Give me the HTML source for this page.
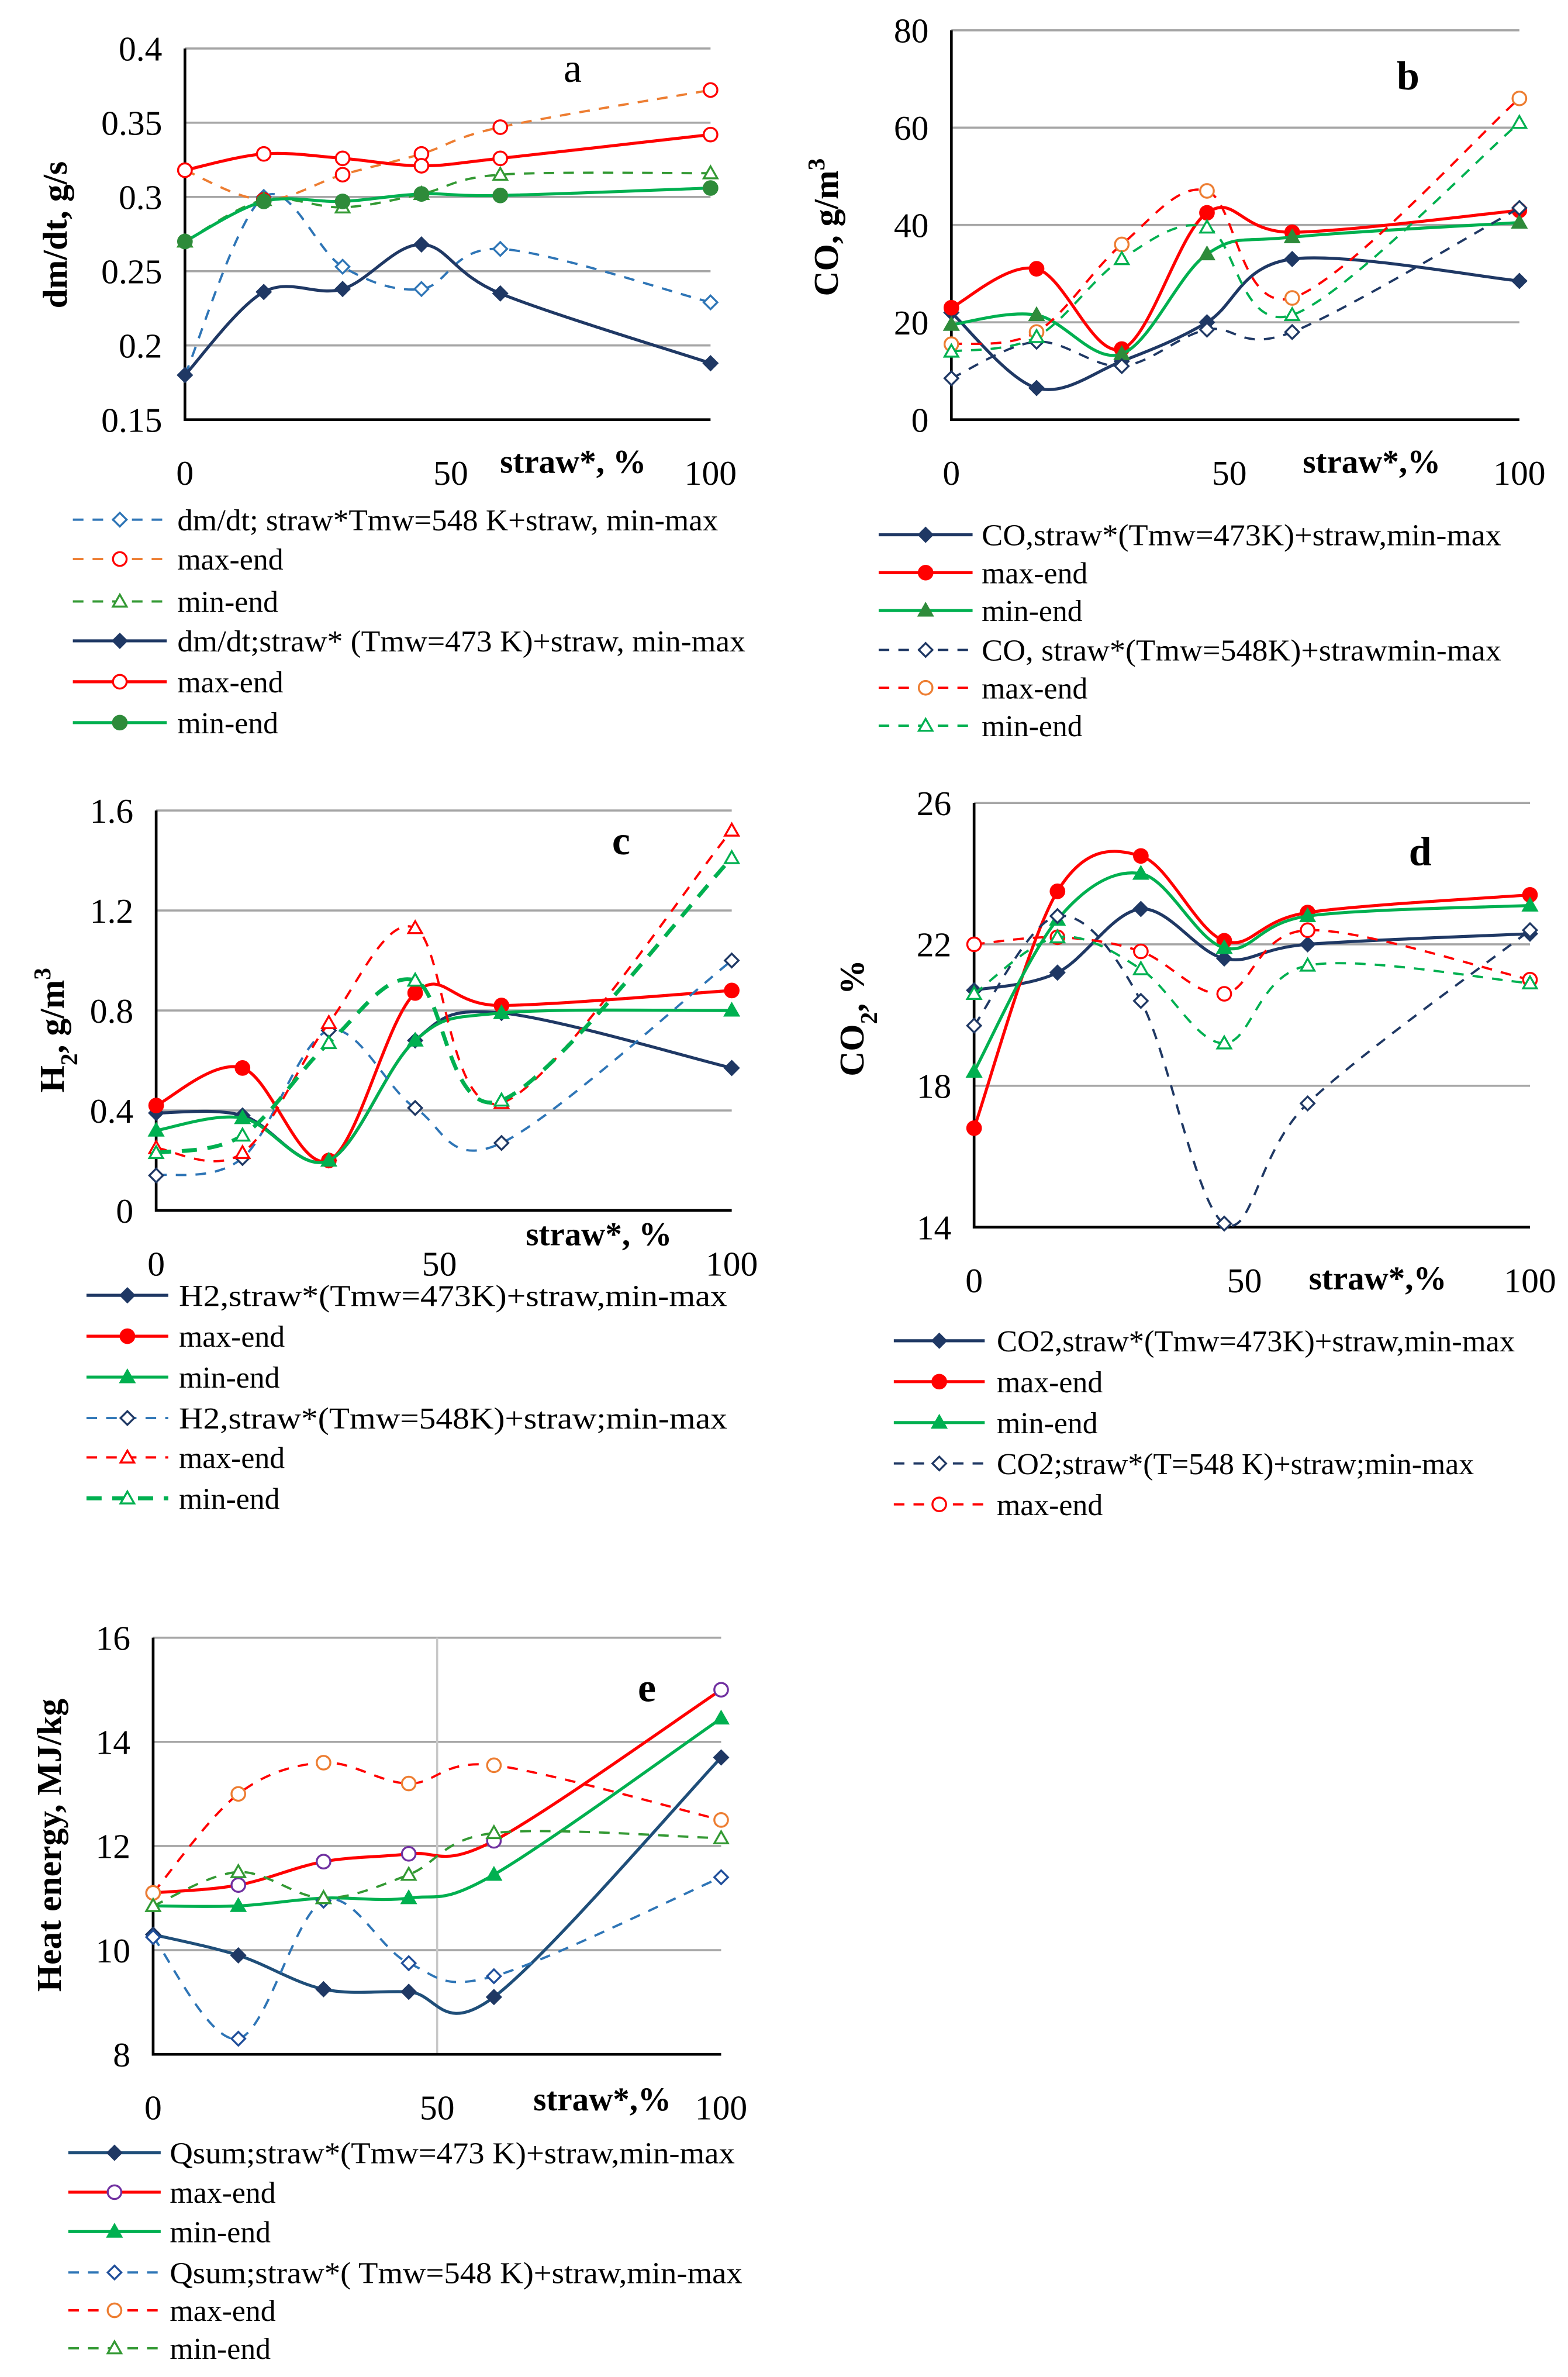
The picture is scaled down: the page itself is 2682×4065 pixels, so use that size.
<!DOCTYPE html>
<html><head><meta charset="utf-8"><style>
html,body{margin:0;padding:0;background:#fff;}
svg{display:block;}
text{font-family:"Liberation Serif",serif;fill:#000;}
</style></head><body>
<svg id="fig" width="2682" height="4065" viewBox="0 0 1035 1569" xmlns="http://www.w3.org/2000/svg"></svg>
<script>
const xValues=[0,15,30,45,60,100];
// panel a
const aDash548=[0.18,0.30,0.253,0.238,0.265,0.229];
const aDashMax=[0.318,0.298,0.315,0.329,0.347,0.372];
const aDashMin=[0.27,0.298,0.293,0.302,0.315,0.316];
const aSolid473=[0.18,0.236,0.238,0.268,0.235,0.188];
const aSolidMax=[0.318,0.329,0.326,0.321,0.326,0.342];
const aSolidMin=[0.27,0.297,0.297,0.302,0.301,0.306];
const aTicks=["0.15","0.2","0.25","0.3","0.35","0.4"];
const aTickVals=[0.15,0.2,0.25,0.3,0.35,0.4];
// panel b
const bSolid473=[22,6.5,12,20,33,28.5];
const bSolidMax=[23,31,14.5,42.5,38.5,43];
const bSolidMin=[19.5,21.5,13.5,34,37.5,40.5];
const bDash548=[8.5,16,11,18.5,18,43.5];
const bDashMax=[15.5,18,36,47,25,66];
const bDashMin=[14,17,33,39.5,21.5,61];
const bTicks=["0","20","40","60","80"];
const bTickVals=[0,20,40,60,80];
// panel c
const cSolid473=[0.39,0.38,0.2,0.68,0.79,0.57];
const cSolidMax=[0.42,0.57,0.2,0.87,0.82,0.88];
const cSolidMin=[0.32,0.37,0.2,0.68,0.79,0.8];
const cDash548=[0.14,0.21,0.72,0.41,0.27,1.0];
const cDashMax=[0.25,0.23,0.75,1.13,0.43,1.52];
const cDashMin=[0.23,0.3,0.67,0.92,0.44,1.41];
const cTicks=["0","0.4","0.8","1.2","1.6"];
const cTickVals=[0,0.4,0.8,1.2,1.6];
// panel d
const dSolid473=[20.7,21.2,23,21.6,22,22.3];
const dSolidMax=[16.8,23.5,24.5,22.1,22.9,23.4];
const dSolidMin=[18.4,22.7,24,21.9,22.8,23.1];
const dDash548=[19.7,22.8,20.4,14.1,17.5,22.4];
const dDashMax=[22,22.2,21.8,20.6,22.4,21];
const dDashMin=[20.6,22.2,21.3,19.2,21.4,20.9];
const dTicks=["14","18","22","26"];
const dTickVals=[14,18,22,26];
// panel e
const eSolid473=[10.3,9.9,9.25,9.2,9.1,13.7];
const eSolidMax=[11.1,11.25,11.7,11.85,12.1,15];
const eSolidMin=[10.85,10.85,11.0,11.0,11.45,14.45];
const eDash548=[10.25,8.3,10.95,9.75,9.5,11.4];
const eDashMax=[11.1,13.0,13.6,13.2,13.55,12.5];
const eDashMin=[10.85,11.5,11.0,11.45,12.25,12.15];
const eTicks=["8","10","12","14","16"];
const eTickVals=[8,10,12,14,16];
const xTicks=["0","50","100"];
const xTickVals=[0,50,100];

const NS="http://www.w3.org/2000/svg";
const svg=document.getElementById('fig');
function mk(tag,attrs,parent){const e=document.createElementNS(NS,tag);for(const k in attrs)e.setAttribute(k,attrs[k]);(parent||svg).appendChild(e);return e;}

function smoothPath(pts){
  let d="M"+pts[0][0]+","+pts[0][1];
  for(let i=0;i<pts.length-1;i++){
    const p0=pts[i-1]||pts[i],p1=pts[i],p2=pts[i+1],p3=pts[i+2]||pts[i+1];
    const c1x=p1[0]+(p2[0]-p0[0])/6,c1y=p1[1]+(p2[1]-p0[1])/6;
    const c2x=p2[0]-(p3[0]-p1[0])/6,c2y=p2[1]-(p3[1]-p1[1])/6;
    d+=" C"+c1x+","+c1y+" "+c2x+","+c2y+" "+p2[0]+","+p2[1];
  }
  return d;
}
function marker(g,type,x,y,color,filled,s){
  s=s||4.5;
  const fill=filled?color:"#fff";
  let e;
  if(type==="diamond"){e=mk('polygon',{points:`${x},${y-s} ${x+s},${y} ${x},${y+s} ${x-s},${y}`,fill:fill,stroke:color,'stroke-width':1.3},g);}
  else if(type==="circle"){e=mk('circle',{cx:x,cy:y,r:s,fill:fill,stroke:color,'stroke-width':1.3},g);}
  else {e=mk('polygon',{points:`${x},${y-s} ${x+s},${y+s*0.75} ${x-s},${y+s*0.75}`,fill:fill,stroke:color,'stroke-width':1.3},g);}
  return e;
}

function panel(cfg){
  const g=mk('g',{});
  
  
  const X=v=>cfg.left+(cfg.right-cfg.left)*v/100;
  const Y=v=>cfg.bottom-(cfg.bottom-cfg.top)*(v-cfg.ymin)/(cfg.ymax-cfg.ymin);
  cfg.tickVals.forEach((v,i)=>{
    if(v!==cfg.ymin){
      const gl=mk('line',{x1:cfg.left,x2:cfg.right,y1:Y(v),y2:Y(v),stroke:'#a6a6a6','stroke-width':1.4},g);
      
      
    }
    const t=mk('text',{x:cfg.left-15,y:Y(v)+8,'text-anchor':'end','font-size':23},g);
    t.textContent=cfg.ticks[i];
    
    
  });
  if(cfg.vgrid){
    const vl=mk('line',{x1:X(50),x2:X(50),y1:cfg.top,y2:cfg.bottom,stroke:'#c8c8c8','stroke-width':1.4},g);
    
    
  }
  const ax=mk('path',{d:`M${cfg.left},${cfg.top} V${cfg.bottom} H${cfg.right}`,fill:'none',stroke:'#000','stroke-width':1.8},g);
  
  
  xTickVals.forEach((v,i)=>{
    const t=mk('text',{x:X(v)+(v===50?cfg.fifty:0),y:cfg.bottom+43,'text-anchor':'middle','font-size':23},g);
    t.textContent=xTicks[i];
    
    
  });
  const xt=mk('text',{x:cfg.xtX,y:cfg.xtY,'font-size':22,'font-weight':'bold'},g);
  xt.textContent=cfg.xtitle;
  
  
  const yt=mk('text',{transform:`translate(${cfg.ytX},${cfg.ytY}) rotate(-90)`,'text-anchor':'middle','font-size':23,'font-weight':'bold'},g);
  yt.innerHTML=cfg.ytitle;
  
  
  const lt=mk('text',{x:cfg.letX,y:cfg.letY,'font-size':27,'font-weight':cfg.letBold?'bold':'normal'},g);
  lt.textContent=cfg.letter;
  
  
  cfg.series.forEach((s,k)=>{
    const sg=mk('g',{},g);
    
    
    const pts=s.data.map((v,i)=>[X(xValues[i]),Y(v)]);
    const p=mk('path',{d:smoothPath(pts),fill:'none',stroke:s.color,'stroke-width':s.w||(s.dash?1.5:2),'stroke-dasharray':s.dash||'none'},sg);
    
    
    pts.forEach(pt=>{
      const m=marker(sg,s.marker,pt[0],pt[1],s.mcolor||s.color,s.filled);
      
      
    });
    if(!s.label||cfg.legY[k]===undefined) return;
    const ly=cfg.legY[k];
    const lg=mk('g',{},g);
    
    
    mk('line',{x1:cfg.legX1,x2:cfg.legX2,y1:ly,y2:ly,stroke:s.color,'stroke-width':s.w||(s.dash?1.5:2),'stroke-dasharray':s.dash||'none'},lg);
    marker(lg,s.marker,(cfg.legX1+cfg.legX2)/2,ly,s.mcolor||s.color,s.filled);
    const tattr={x:cfg.legT,y:ly+7,'font-size':20};
    if(s.tl){tattr.textLength=s.tl;tattr.lengthAdjust='spacingAndGlyphs';}
    const tt=mk('text',tattr,lg);
    tt.textContent=s.label;
  });
}

const NAVY="#1f3864",RED="#ff0000",GRN="#00b050",DGRN="#339933",LBLUE="#2e75b6",ORG="#ed7d31";

panel({name:'panel-a',left:122,right:469,top:32,bottom:277,ymin:0.15,ymax:0.4,ticks:aTicks,tickVals:aTickVals,fifty:2,
  xtitle:'straw*, %',xtX:330,xtY:312,ytitle:'dm/dt, g/s',ytX:44,ytY:155,letter:'a',letX:372,letY:54,letBold:false,
  legY:[343,369,397,423,450,477],legX1:48,legX2:110,legT:117,
  series:[
   {id:'a-548-min-max',data:aDash548,color:LBLUE,dash:'7,6',marker:'diamond',filled:false,label:'dm/dt; straw*Tmw=548 K+straw, min-max',tl:357},
   {id:'a-548-max-end',data:aDashMax,color:ORG,mcolor:RED,dash:'7,6',marker:'circle',filled:false,label:' max-end'},
   {id:'a-548-min-end',data:aDashMin,color:DGRN,dash:'7,6',marker:'tri',filled:false,label:'min-end'},
   {id:'a-473-min-max',data:aSolid473,color:NAVY,marker:'diamond',filled:true,label:' dm/dt;straw* (Tmw=473 K)+straw, min-max',tl:375},
   {id:'a-473-max-end',data:aSolidMax,color:RED,marker:'circle',filled:false,label:'  max-end'},
   {id:'a-473-min-end',data:aSolidMin,color:GRN,mcolor:'#2e8b3a',marker:'circle',filled:true,label:'min-end'}
  ]});

panel({name:'panel-b',left:628,right:1003,top:20,bottom:277,ymin:0,ymax:80,ticks:bTicks,tickVals:bTickVals,fifty:-4,
  xtitle:'straw*,%',xtX:860,xtY:312,ytitle:'CO, g/m<tspan baseline-shift="super" font-size="16">3</tspan>',ytX:553,ytY:150,letter:'b',letX:922,letY:59,letBold:true,
  legY:[353,378,403,429,454,479],legX1:580,legX2:642,legT:648,
  series:[
   {id:'b-473-min-max',data:bSolid473,color:NAVY,marker:'diamond',filled:true,label:'CO,straw*(Tmw=473K)+straw,min-max',tl:343},
   {id:'b-473-max-end',data:bSolidMax,color:RED,marker:'circle',filled:true,label:'max-end'},
   {id:'b-473-min-end',data:bSolidMin,color:GRN,mcolor:'#2e8b3a',marker:'tri',filled:true,label:'min-end'},
   {id:'b-548-min-max',data:bDash548,color:NAVY,dash:'7,6',marker:'diamond',filled:false,label:'CO, straw*(Tmw=548K)+strawmin-max',tl:343},
   {id:'b-548-max-end',data:bDashMax,color:RED,mcolor:ORG,dash:'7,6',marker:'circle',filled:false,label:'max-end'},
   {id:'b-548-min-end',data:bDashMin,color:GRN,dash:'7,6',marker:'tri',filled:false,label:'min-end'}
  ]});

panel({name:'panel-c',left:103,right:483,top:535,bottom:799,ymin:0,ymax:1.6,ticks:cTicks,tickVals:cTickVals,fifty:-3,
  xtitle:'straw*, %',xtX:347,xtY:822,ytitle:'H<tspan baseline-shift="sub" font-size="16">2</tspan>, g/m<tspan baseline-shift="super" font-size="16">3</tspan>',ytX:42,ytY:680,letter:'c',letX:404,letY:564,letBold:true,
  legY:[855,882,909,936,962,989],legX1:57,legX2:111,legT:118,
  series:[
   {id:'c-473-min-max',data:cSolid473,color:NAVY,marker:'diamond',filled:true,label:'H2,straw*(Tmw=473K)+straw,min-max',tl:362},
   {id:'c-473-max-end',data:cSolidMax,color:RED,marker:'circle',filled:true,label:'max-end'},
   {id:'c-473-min-end',data:cSolidMin,color:GRN,marker:'tri',filled:true,label:'min-end'},
   {id:'c-548-min-max',data:cDash548,color:LBLUE,mcolor:NAVY,dash:'7,6',marker:'diamond',filled:false,label:'H2,straw*(Tmw=548K)+straw;min-max',tl:362},
   {id:'c-548-max-end',data:cDashMax,color:RED,dash:'7,6',marker:'tri',filled:false,label:'max-end'},
   {id:'c-548-min-end',data:cDashMin,color:GRN,dash:'10,7',w:2.6,marker:'tri',filled:false,label:'min-end'}
  ]});

panel({name:'panel-d',left:643,right:1010,top:530,bottom:810,ymin:14,ymax:26,ticks:dTicks,tickVals:dTickVals,fifty:-5,
  xtitle:'straw*,%',xtX:864,xtY:851,ytitle:'CO<tspan baseline-shift="sub" font-size="16">2</tspan>, %',ytX:570,ytY:672,letter:'d',letX:930,letY:571,letBold:true,
  legY:[885,912,939,966,993],legX1:590,legX2:650,legT:658,
  series:[
   {id:'d-473-min-max',data:dSolid473,color:NAVY,marker:'diamond',filled:true,label:'CO2,straw*(Tmw=473K)+straw,min-max',tl:342},
   {id:'d-473-max-end',data:dSolidMax,color:RED,marker:'circle',filled:true,label:'max-end'},
   {id:'d-473-min-end',data:dSolidMin,color:GRN,marker:'tri',filled:true,label:'min-end'},
   {id:'d-548-min-max',data:dDash548,color:NAVY,dash:'7,6',marker:'diamond',filled:false,label:'CO2;straw*(T=548 K)+straw;min-max',tl:315},
   {id:'d-548-max-end',data:dDashMax,color:RED,dash:'7,6',marker:'circle',filled:false,label:'max-end'},
   {id:'d-548-min-end',data:dDashMin,color:GRN,dash:'7,6',marker:'tri',filled:false,label:''}
  ]});

panel({name:'panel-e',left:101,right:476,top:1081,bottom:1356,ymin:8,ymax:16,ticks:eTicks,tickVals:eTickVals,fifty:0,vgrid:true,
  xtitle:'straw*,%',xtX:352,xtY:1393,ytitle:'Heat energy, MJ/kg',ytX:40,ytY:1218,letter:'e',letX:421,letY:1123,letBold:true,
  legY:[1421,1447,1473,1500,1525,1550],legX1:45,legX2:106,legT:112,
  series:[
   {id:'e-473-min-max',data:eSolid473,color:'#1f4e79',mcolor:NAVY,marker:'diamond',filled:true,label:'Qsum;straw*(Tmw=473 K)+straw,min-max',tl:373},
   {id:'e-473-max-end',data:eSolidMax,color:RED,mcolor:'#7030a0',marker:'circle',filled:false,label:'max-end'},
   {id:'e-473-min-end',data:eSolidMin,color:GRN,marker:'tri',filled:true,label:'min-end'},
   {id:'e-548-min-max',data:eDash548,color:LBLUE,mcolor:'#1f4e9a',dash:'7,6',marker:'diamond',filled:false,label:'Qsum;straw*( Tmw=548 K)+straw,min-max',tl:378},
   {id:'e-548-max-end',data:eDashMax,color:RED,mcolor:ORG,dash:'7,6',marker:'circle',filled:false,label:'max-end'},
   {id:'e-548-min-end',data:eDashMin,color:DGRN,dash:'7,6',marker:'tri',filled:false,label:'min-end'}
  ]});
</script>
</body></html>
